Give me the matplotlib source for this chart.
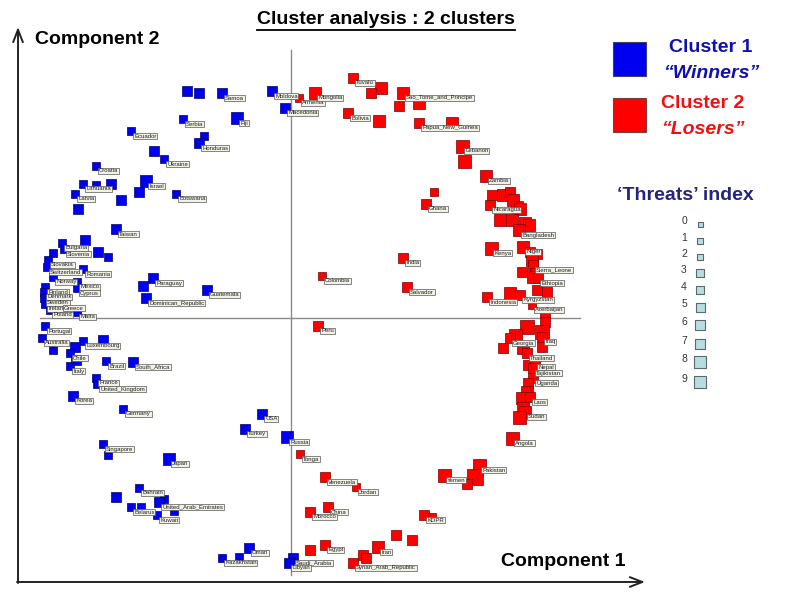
import matplotlib
matplotlib.use("Agg")
import matplotlib.pyplot as plt
import numpy as np

plt.rcParams['font.family'] = ['Liberation Sans', 'DejaVu Sans']

# Cluster 1 "Winners": name, component 1, component 2, threats index
blue_names = ["", "", "Samoa", "Moldova", "Macedonia", "Serbia", "Fiji", "Ecuador",
              "", "Honduras", "", "Ukraine", "Croatia", "Lithuania", "", "", "Latvia",
              "", "", "Israel", "", "Botswana", "Taiwan", "Bulgaria", "", "Slovenia",
              "", "", "", "Slovakia", "Switzerland", "Norway", "Romania", "Mexico",
              "Cyprus", "Finland", "Denmark", "Sweden", "Ireland", "Greece", "Poland",
              "Malta", "Paraguay", "", "Guatemala", "Dominican_Republic", "Portugal",
              "Australia", "", "Luxembourg", "", "", "Chile", "", "Italy", "Brazil",
              "South_Africa", "France", "United_Kingdom", "Korea", "Germany", "USA",
              "Turkey", "Russia", "Singapore", "", "Japan", "Bahrain", "", "",
              "United_Arab_Emirates", "Belarus", "", "Kuwait", "", "Oman", "Kazakhstan",
              "", "Saudi_Arabia", "Libyan"]
blue_c1 = [-1.04, -0.92, -0.69, -0.19, -0.06, -1.08, -0.54, -1.60, -0.87, -0.92,
           -1.37, -1.27, -1.95, -2.08, -1.95, -1.80, -2.16, -2.13, -1.70, -1.45,
           -1.52, -1.15, -1.75, -2.29, -2.06, -2.27, -1.93, -1.83, -2.38, -2.43,
           -2.44, -2.38, -2.08, -2.14, -2.14, -2.46, -2.47, -2.47, -2.46, -2.30,
           -2.41, -2.14, -1.38, -1.48, -0.84, -1.45, -2.46, -2.49, -2.38, -2.08,
           -1.88, -2.16, -2.21, -2.15, -2.21, -1.85, -1.58, -1.95, -1.94, -2.18,
           -1.68, -0.29, -0.46, -0.04, -1.88, -1.83, -1.22, -1.52, -1.75, -1.27,
           -1.32, -1.60, -1.50, -1.34, -1.17, -0.42, -0.69, -0.52, 0.02, -0.02]
blue_c2 = [2.27, 2.25, 2.25, 2.27, 2.10, 1.99, 2.00, 1.87, 1.82, 1.75,
           1.67, 1.59, 1.52, 1.34, 1.33, 1.34, 1.24, 1.09, 1.18, 1.37,
           1.26, 1.24, 0.89, 0.75, 0.78, 0.69, 0.66, 0.61, 0.65, 0.58,
           0.51, 0.41, 0.49, 0.36, 0.30, 0.31, 0.26, 0.20, 0.14, 0.15,
           0.08, 0.06, 0.40, 0.32, 0.28, 0.20, -0.08, -0.20, -0.32, -0.23,
           -0.22, -0.29, -0.35, -0.42, -0.48, -0.43, -0.44, -0.60, -0.66, -0.78,
           -0.91, -0.96, -1.11, -1.19, -1.26, -1.37, -1.41, -1.70, -1.79, -1.81,
           -1.84, -1.89, -1.89, -1.97, -1.93, -2.30, -2.40, -2.39, -2.40, -2.45]
blue_threat = [2, 2, 2, 2, 3, 0, 4, 1, 1, 2,
               3, 1, 0, 0, 1, 3, 0, 2, 3, 4,
               2, 1, 3, 0, 2, 0, 3, 1, 1, 1,
               1, 1, 0, 0, 0, 0, 0, 0, 0, 0,
               0, 0, 3, 2, 2, 2, 0, 0, 0, 0,
               2, 2, 1, 3, 0, 1, 2, 0, 0, 3,
               0, 3, 3, 4, 1, 0, 4, 0, 2, 0,
               2, 0, 0, 0, 1, 3, 1, 1, 3, 3]

# Cluster 2 "Losers"
red_names = ["Armenia", "Mongolia", "Tuvalu", "", "", "Sao_Tome_and_Principe", "", "",
             "Bolivia", "", "Papua_New_Guinea", "", "Lebanon", "", "Ghana", "", "Zambia",
             "", "", "", "Nicaragua", "", "", "", "", "", "", "", "Bangladesh", "Kenya",
             "Niger", "", "", "", "Sierra_Leone", "", "", "", "Ethiopia", "Indonesia", "",
             "Kyrgyzstan", "", "", "Azerbaijan", "", "", "", "", "", "Georgia", "Iraq",
             "", "", "", "Thailand", "", "Nepal", "Tajikistan", "Uganda", "", "", "",
             "Laos", "", "Sudan", "", "Angola", "Peru", "India", "Salvador", "Colombia",
             "Tonga", "Venezuela", "Jordan", "China", "Morocco", "KDPR", "", "", "", "",
             "Egypt", "Iran", "", "", "Syrian_Arab_Republic", "Yemen", "Pakistan", "", ""]
red_c1 = [0.08, 0.24, 0.62, 0.90, 0.80, 1.12, 1.08, 1.28, 0.57, 0.88,
          1.28, 1.61, 1.71, 1.73, 1.35, 1.43, 1.95, 2.01, 2.12, 2.19,
          1.99, 2.22, 2.26, 2.29, 2.09, 2.21, 2.34, 2.38, 2.28, 2.00,
          2.32, 2.39, 2.46, 2.41, 2.42, 2.31, 2.44, 2.42, 2.47, 1.96,
          2.19, 2.29, 2.46, 2.56, 2.41, 2.54, 2.54, 2.36, 2.24, 2.51,
          2.19, 2.51, 2.12, 2.32, 2.51, 2.36, 2.37, 2.44, 2.42, 2.42,
          2.37, 2.36, 2.31, 2.39, 2.32, 2.34, 2.28, 2.21, 0.27, 1.12,
          1.16, 0.31, 0.09, 0.34, 0.65, 0.37, 0.19, 1.33, 1.41, 1.05,
          1.21, 0.19, 0.34, 0.87, 0.72, 0.75, 0.62, 1.53, 1.88, 1.84, 1.76]
red_c2 = [2.20, 2.25, 2.40, 2.30, 2.25, 2.25, 2.12, 2.15, 2.05, 1.97,
          1.95, 1.95, 1.72, 1.57, 1.14, 1.26, 1.42, 1.23, 1.23, 1.26,
          1.13, 1.18, 1.11, 1.09, 0.98, 0.98, 0.95, 0.93, 0.88, 0.70,
          0.71, 0.66, 0.64, 0.58, 0.53, 0.46, 0.45, 0.41, 0.40, 0.21,
          0.25, 0.23, 0.28, 0.26, 0.13, 0.05, -0.04, -0.09, -0.17, -0.14,
          -0.20, -0.19, -0.30, -0.30, -0.29, -0.35, -0.47, -0.44, -0.50, -0.60,
          -0.65, -0.74, -0.80, -0.79, -0.90, -0.94, -0.99, -1.20, -0.08, 0.60,
          0.31, 0.42, -1.36, -1.59, -1.69, -1.89, -1.94, -1.97, -1.99, -2.17,
          -2.22, -2.32, -2.27, -2.29, -2.37, -2.40, -2.45, -1.57, -1.47, -1.59, -1.66]
red_threat = [0, 4, 3, 4, 2, 4, 3, 4, 2, 4,
              3, 4, 5, 5, 2, 1, 4, 3, 4, 3,
              3, 4, 4, 4, 4, 4, 4, 4, 4, 5,
              4, 3, 3, 4, 3, 3, 3, 4, 3, 3,
              4, 3, 3, 2, 0, 3, 3, 6, 5, 6,
              3, 3, 3, 4, 3, 3, 3, 3, 3, 3,
              3, 4, 4, 3, 4, 4, 5, 5, 3, 3,
              3, 0, 1, 3, 1, 3, 2, 3, 1, 3,
              3, 3, 3, 4, 3, 3, 3, 5, 5, 7, 3]

threat_levels = list(range(10))


def marker_area(t, base=7.5, step=1.1):
    side_px = base + np.asarray(t) * step
    return (side_px * 0.72) ** 2


fig = plt.figure(figsize=(8, 6), dpi=100)
fig.patch.set_facecolor('white')

ax = fig.add_axes([0, 0, 1, 1])
ax.set_xlim(-2.91, 5.09)
ax.set_ylim(-2.82, 3.18)
ax.axis('off')

# reference cross through the origin
ax.axvline(0, ymin=0.042, ymax=0.917, color='#8a8a8a', lw=1, zorder=1)
ax.axhline(0, xmin=0.05, xmax=0.725, color='#8a8a8a', lw=1, zorder=1)

ax.scatter(blue_c1, blue_c2, s=marker_area(blue_threat), marker='s',
           c='#0000f0', edgecolors='#00006a', linewidths=0.5, zorder=3)
ax.scatter(red_c1, red_c2, s=marker_area(red_threat), marker='s',
           c='#ff0000', edgecolors='#7a0000', linewidths=0.5, zorder=3)

box = dict(boxstyle='square,pad=0.12', fc='#f1f1e6', ec='#555555', lw=0.5)
for names, xs, ys in [(blue_names, blue_c1, blue_c2), (red_names, red_c1, red_c2)]:
    for n, x, y in zip(names, xs, ys):
        if n:
            ax.annotate(n, (x, y), xytext=(2.2, -3.6), textcoords='offset points',
                        fontsize=4.3, ha='left', va='center', color='#222222',
                        bbox=box, zorder=4)

# overlay in pixel units for the furniture
lax = fig.add_axes([0, 0, 1, 1], zorder=5)
lax.set_xlim(0, 800)
lax.set_ylim(600, 0)
lax.axis('off')
lax.patch.set_alpha(0)

arrow = dict(arrowstyle='->,head_length=0.9,head_width=0.35', lw=1.4, color='#222222',
             shrinkA=0, shrinkB=0)
lax.annotate('', xy=(18, 27), xytext=(18, 583), arrowprops=arrow)
lax.annotate('', xy=(645, 582), xytext=(17, 582), arrowprops=arrow)

title = lax.text(386, 20, 'Cluster analysis : 2 clusters', fontsize=14, fontweight='bold',
                 ha='center', va='center')
fig.canvas.draw()
bb = title.get_window_extent(fig.canvas.get_renderer())
lax.plot([bb.x0, bb.x1], [29.5, 29.5], color='black', lw=1.3)

lax.text(97, 40, 'Component 2', fontsize=14, fontweight='bold', ha='center', va='center')
lax.text(563, 562, 'Component 1', fontsize=14, fontweight='bold', ha='center', va='center')

# cluster legend
lax.add_patch(plt.Rectangle((613, 42), 33, 34, fc='#0000f0', ec='#404060', lw=0.8))
lax.add_patch(plt.Rectangle((613, 98), 33, 34, fc='#ff0000', ec='#704040', lw=0.8))
lax.text(711, 48, 'Cluster 1', fontsize=14, fontweight='bold', color='#1010b0',
         ha='center', va='center')
lax.text(711, 73, '\u201cWinners\u201d', fontsize=14, fontweight='bold', style='italic',
         color='#1010b0', ha='center', va='center')
lax.text(703, 104, 'Cluster 2', fontsize=14, fontweight='bold', color='#ee1111',
         ha='center', va='center')
lax.text(703, 129, '\u201cLosers\u201d', fontsize=14, fontweight='bold', style='italic',
         color='#ee1111', ha='center', va='center')

lax.text(685, 196, '\u2018Threats\u2019 index', fontsize=14, fontweight='bold',
         color='#24247a', ha='center', va='center')

legend_y = [224, 241, 257, 273, 290, 307, 325, 344, 362, 382]
lax.scatter([700] * len(threat_levels), legend_y,
            s=marker_area(threat_levels, base=5.0, step=0.8),
            marker='s', c='#b8dde0', edgecolors='#5a6a6a', linewidths=0.8)
for t, y in zip(threat_levels, legend_y):
    lax.text(684, y - 3, str(t), fontsize=7.5, color='#333333', ha='center', va='center')

fig.savefig('out.png', dpi=100)
